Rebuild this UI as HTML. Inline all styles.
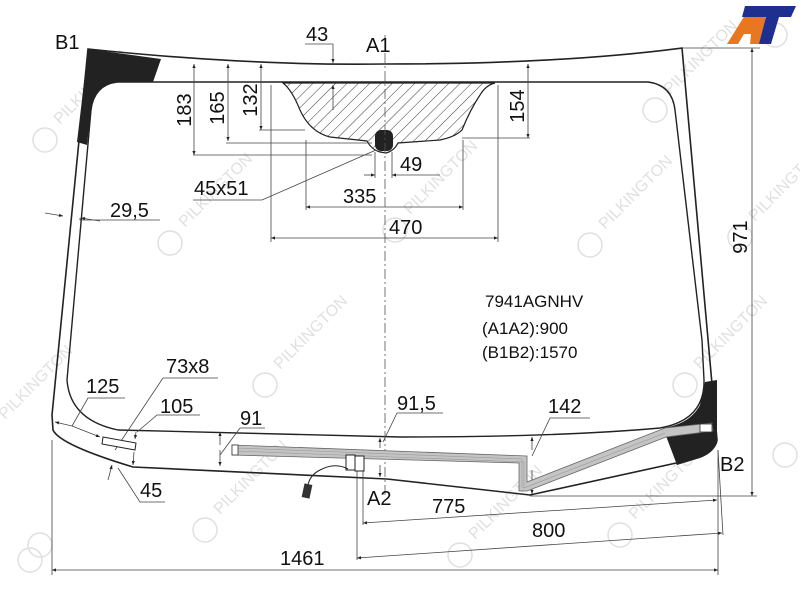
<!DOCTYPE html>
<html><head><meta charset="utf-8"><style>
html,body{margin:0;padding:0;background:#fff;}
svg{display:block;}
text{font-family:"Liberation Sans",Arial,sans-serif;fill:#111;}
</style></head><body>
<svg width="800" height="600" viewBox="0 0 800 600" xmlns="http://www.w3.org/2000/svg">
<defs>
<pattern id="h" patternUnits="userSpaceOnUse" width="8" height="8" patternTransform="rotate(45)">
<line x1="0" y1="0" x2="0" y2="8" stroke="#222" stroke-width="0.9"/>
</pattern>
<marker id="a" viewBox="0 0 10 10" refX="10" refY="5" markerWidth="7" markerHeight="5" orient="auto-start-reverse"><path d="M0,1 L10,5 L0,9 z" fill="#222"/></marker>
</defs>

<g fill="none" stroke="#ddd" stroke-width="1.5" opacity="0.9">
<circle cx="45" cy="140" r="12"/><circle cx="170" cy="243" r="12"/><circle cx="395" cy="230" r="12"/>
<circle cx="590" cy="245" r="12"/><circle cx="655" cy="110" r="12"/><circle cx="775" cy="35" r="12"/>
<circle cx="265" cy="385" r="12"/><circle cx="30" cy="560" r="12"/><circle cx="205" cy="530" r="12"/>
<circle cx="460" cy="555" r="12"/><circle cx="620" cy="535" r="12"/><circle cx="685" cy="385" r="12"/>
<circle cx="785" cy="455" r="12"/><circle cx="40" cy="545" r="12"/><circle cx="740" cy="237" r="12"/>
</g>
<g font-size="16" opacity="0.6">
<text transform="translate(60,125) rotate(-45)" style="fill:#ccc">PILKINGTON</text>
<text transform="translate(185,228) rotate(-45)" style="fill:#ccc">PILKINGTON</text>
<text transform="translate(410,215) rotate(-45)" style="fill:#ccc">PILKINGTON</text>
<text transform="translate(605,230) rotate(-45)" style="fill:#ccc">PILKINGTON</text>
<text transform="translate(670,95) rotate(-45)" style="fill:#ccc">PILKINGTON</text>
<text transform="translate(280,370) rotate(-45)" style="fill:#ccc">PILKINGTON</text>
<text transform="translate(220,515) rotate(-45)" style="fill:#ccc">PILKINGTON</text>
<text transform="translate(475,540) rotate(-45)" style="fill:#ccc">PILKINGTON</text>
<text transform="translate(635,520) rotate(-45)" style="fill:#ccc">PILKINGTON</text>
<text transform="translate(700,370) rotate(-45)" style="fill:#ccc">PILKINGTON</text>
<text transform="translate(755,222) rotate(-45)" style="fill:#ccc">PILKINGTON</text>
<text transform="translate(5,420) rotate(-45)" style="fill:#ccc">PILKINGTON</text>
</g>

<polygon points="727,44 750,7 767,7 762,44 750,44 751,34 744,34 738,44" fill="#e87722"/>
<polygon points="745,6 796,6 791,17 779,17 771,44 759,44 766,17 742,17" fill="#1f2f8f"/>

<path d="M88,49 L161,59 L153,82 L117,82 Q96,85 91,110 L87,145 L77,142 Z" fill="#222"/>
<path d="M705,382 L717,380 L717,440 Q716,452 700,458 L677,465 L663,428 Q690,424 700,405 Z" fill="#222"/>

<path d="M88,49 Q250,66 385,64 Q560,64 682,48 L717,440 Q716,452 690,460 Q600,480 530,495 L387,479 L133,467 Q60,445 53,430 L52,415 Z" fill="none" stroke="#222" stroke-width="1.6"/>
<path d="M117,82 L648,82 Q672,85 675,110 L702,340 L704,380 Q705,420 660,428 Q560,437 400,437 L118,430 Q70,420 67,380 L91,110 Q94,85 117,82 Z" fill="none" stroke="#222" stroke-width="1.4"/>

<path d="M283,83 Q292,90 300,110 Q310,132 330,137 L367,141 Q372,150 380,152 L386,153 Q394,151 398,143 L440,140 Q455,137 462,130 Q470,110 480,95 Q486,85 495,83 Z" fill="url(#h)" stroke="#222" stroke-width="1.2"/>
<rect x="375" y="130" width="18" height="21" rx="6" fill="#222"/>

<line x1="385" y1="35" x2="385" y2="495" stroke="#555" stroke-width="0.8" stroke-dasharray="10,3,2,3"/>

<g stroke="#444" stroke-width="0.8" fill="none">
<line x1="194" y1="64" x2="194" y2="155" marker-start="url(#a)" marker-end="url(#a)"/>
<line x1="228" y1="64" x2="228" y2="141" marker-start="url(#a)" marker-end="url(#a)"/>
<line x1="261" y1="64" x2="261" y2="130" marker-start="url(#a)" marker-end="url(#a)"/>
<line x1="193" y1="155" x2="372" y2="155"/>
<line x1="226" y1="143" x2="372" y2="143"/>
<line x1="259" y1="130" x2="305" y2="130"/>
<line x1="528" y1="64" x2="528" y2="138" marker-start="url(#a)" marker-end="url(#a)"/>
<line x1="462" y1="138" x2="530" y2="138"/>
<line x1="333" y1="85" x2="333" y2="110" marker-start="url(#a)"/>
<line x1="305" y1="44" x2="333" y2="44"/>
<line x1="333" y1="44" x2="333" y2="63" marker-end="url(#a)"/>
<line x1="271" y1="85" x2="271" y2="242"/>
<line x1="498" y1="85" x2="498" y2="242"/>
<line x1="271" y1="238" x2="498" y2="238" marker-start="url(#a)" marker-end="url(#a)"/>
<line x1="306" y1="140" x2="306" y2="210"/>
<line x1="463" y1="140" x2="463" y2="210"/>
<line x1="306" y1="207" x2="463" y2="207" marker-start="url(#a)" marker-end="url(#a)"/>
<line x1="375" y1="152" x2="375" y2="178"/>
<line x1="392" y1="152" x2="392" y2="178"/>
<line x1="364" y1="175" x2="375" y2="175" marker-end="url(#a)"/>
<line x1="440" y1="175" x2="392" y2="175" marker-end="url(#a)"/>
<polyline points="376,150 262,200 193,200"/>
<line x1="45" y1="213" x2="63" y2="216" marker-end="url(#a)"/>
<polyline points="160,220 80,220 80,218"/>
<line x1="100" y1="221" x2="81" y2="218" marker-end="url(#a)"/>
<line x1="682" y1="48" x2="760" y2="48"/>
<line x1="530" y1="496" x2="757" y2="496"/>
<line x1="752" y1="48" x2="752" y2="496" marker-start="url(#a)" marker-end="url(#a)"/>
<line x1="52" y1="440" x2="52" y2="575"/>
<line x1="718" y1="450" x2="718" y2="575"/>
<line x1="52" y1="570" x2="718" y2="570" marker-start="url(#a)" marker-end="url(#a)"/>
<line x1="357" y1="470" x2="357" y2="560"/>
<line x1="363" y1="470" x2="363" y2="525"/>
<line x1="718" y1="450" x2="723" y2="535"/>
<line x1="357" y1="558" x2="722" y2="533" marker-start="url(#a)" marker-end="url(#a)"/>
<line x1="363" y1="523" x2="717" y2="500" marker-start="url(#a)" marker-end="url(#a)"/>
<polyline points="125,398 88,398 72,426"/>
<line x1="72" y1="426" x2="55" y2="422" marker-end="url(#a)"/>
<line x1="72" y1="426" x2="100" y2="437" marker-end="url(#a)"/>
<polyline points="218,378 163,378 115,450"/>
<polyline points="200,415 157,415 137,432"/>
<line x1="136" y1="432" x2="135" y2="439" marker-end="url(#a)"/>
<line x1="134" y1="452" x2="133" y2="465" marker-end="url(#a)"/>
<polyline points="165,502 140,502 118,468"/>
<line x1="108" y1="480" x2="112" y2="465" marker-end="url(#a)"/>
<polyline points="265,428 240,428 220,455"/>
<line x1="220" y1="445" x2="220" y2="432" marker-end="url(#a)"/>
<line x1="220" y1="450" x2="220" y2="466" marker-end="url(#a)"/>
<polyline points="443,413 397,413 383,442"/>
<line x1="380" y1="448" x2="380" y2="438" marker-end="url(#a)"/>
<line x1="380" y1="465" x2="380" y2="477" marker-end="url(#a)"/>
<polyline points="590,418 550,418 532,456"/>
<line x1="532" y1="450" x2="532" y2="437" marker-end="url(#a)"/>
<line x1="532" y1="470" x2="532" y2="494" marker-end="url(#a)"/>
</g>
<polygon points="103,437 136,443 135,450 102,444" fill="#fff" stroke="#222" stroke-width="1"/>

<!-- heating strip -->
<polygon points="232,445 527,456 527,482 665,428 712,423 713,431 666,437 527,491 519,491 519,463 232,455" fill="#c4c4c4" stroke="#666" stroke-width="0.8"/>
<g stroke="#999" stroke-width="0.6" fill="none">
<polyline points="236,448 522,459 522,488"/>
<polyline points="236,451 524,462 524,488 665,433"/>
</g>
<rect x="232" y="445" width="6" height="10" fill="#fff" stroke="#333" stroke-width="0.8"/>
<rect x="700" y="424" width="12" height="8" fill="#fff" stroke="#333" stroke-width="0.8"/>
<rect x="346" y="455" width="9" height="15" fill="#fff" stroke="#222"/>
<rect x="355" y="456" width="9" height="15" fill="#fff" stroke="#222"/>
<path d="M348,469 Q335,462 320,470 Q310,475 308,485" fill="none" stroke="#222" stroke-width="1"/>
<rect x="303" y="484" width="8" height="14" fill="#333" transform="rotate(12 307 491)"/>

<g font-size="20">
<text x="55" y="49">B1</text>
<text x="306" y="41">43</text>
<text x="366" y="52">A1</text>
<text transform="translate(191,110) rotate(-90)" text-anchor="middle">183</text>
<text transform="translate(224,108) rotate(-90)" text-anchor="middle">165</text>
<text transform="translate(257,100) rotate(-90)" text-anchor="middle">132</text>
<text transform="translate(524,106) rotate(-90)" text-anchor="middle">154</text>
<text x="194" y="195">45x51</text>
<text x="110" y="217">29,5</text>
<text x="400" y="171">49</text>
<text x="343" y="203">335</text>
<text x="389" y="234">470</text>
<text transform="translate(747,237) rotate(-90)" text-anchor="middle">971</text>
<text x="166" y="373">73x8</text>
<text x="86" y="393">125</text>
<text x="160" y="413">105</text>
<text x="240" y="425">91</text>
<text x="397" y="410">91,5</text>
<text x="548" y="413">142</text>
<text x="140" y="497">45</text>
<text x="720" y="471">B2</text>
<text x="367" y="505">A2</text>
<text x="432" y="513">775</text>
<text x="532" y="537">800</text>
<text x="280" y="565">1461</text>
</g>
<g font-size="17">
<text x="485" y="307">7941AGNHV</text>
<text x="482" y="334">(A1A2):900</text>
<text x="482" y="358">(B1B2):1570</text>
</g>
</svg>
</body></html>
